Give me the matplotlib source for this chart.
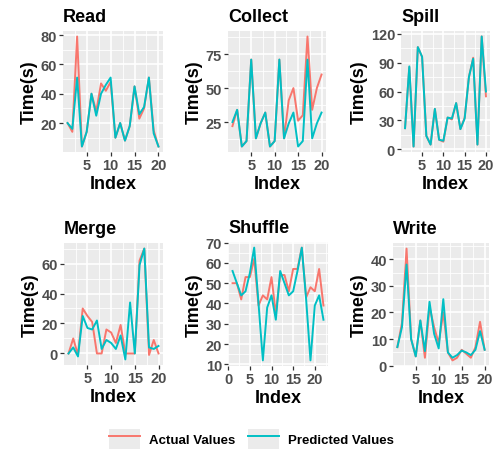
import matplotlib
matplotlib.use("Agg")
import matplotlib.pyplot as plt
from matplotlib.lines import Line2D
from matplotlib.patches import Patch
from matplotlib.legend_handler import HandlerTuple
import numpy as np

plt.rcParams['font.family'] = ['Liberation Sans', 'DejaVu Sans']
plt.rcParams['font.weight'] = 'bold'

# values
read_actual = [20, 14, 79, 4, 14, 40, 28, 47, 42, 48, 10, 20, 8, 18, 45, 23, 30, 51, 15, 4]
read_pred = [20, 16, 51, 4, 14, 40, 25, 40, 46, 51, 10, 20, 8, 18, 45, 26, 31, 51, 13, 4]

collect_actual = [22, 34, 7, 11, 71, 13, 24, 32, 7, 11, 71, 13, 41, 50, 26, 30, 88, 34, 50, 60]
collect_pred = [25, 34, 7, 11, 71, 13, 24, 32, 7, 11, 71, 13, 24, 32, 7, 11, 71, 13, 24, 32]

spill_actual = [22, 85, 3, 106, 96, 14, 5, 42, 10, 8, 33, 31, 48, 21, 33, 75, 95, 5, 117, 55]
spill_pred = [22, 86, 3, 106, 96, 14, 5, 42, 10, 9, 33, 32, 48, 21, 32, 75, 94, 5, 117, 60]

merge_actual = [0, 10, -1, 30, 25, 21, 0, 0, 16, 14, 7, 19, 0, 0, 0, 62, 70, -1, 9, 0]
merge_pred = [0, 4, -2, 25, 17, 16, 22, 3, 9, 7, 3, 12, -4, 34, 0, 59, 70, 4, 3, 5]

shuffle_actual = [50, 50, 42, 53, 53, 62, 39, 44, 42, 53, 35, 54, 54, 46, 57, 57, 67.5, 43, 48, 46, 57, 39]
shuffle_pred = [56, 50, 44, 46, 55, 67.5, 40, 12, 38, 44, 32, 56, 50, 44, 46, 56, 67.5, 42, 12, 39, 44, 32]

write_actual = [7, 16, 44, 10, 3.5, 17, 3, 22, 14.5, 8.5, 20, 5, 2, 3, 6, 4.5, 3, 7, 16.5, 6]
write_pred = [7, 14.5, 38, 10, 3.5, 17, 5.5, 24, 12, 6.5, 25, 5, 3, 4, 5.7, 5, 4, 6, 13, 6]

titles = ['Read', 'Collect', 'Spill', 'Merge', 'Shuffle', 'Write']
actual = [read_actual, collect_actual, spill_actual, merge_actual, shuffle_actual, write_actual]
predicted = [read_pred, collect_pred, spill_pred, merge_pred, shuffle_pred, write_pred]
yticks = [[20, 40, 60, 80], [25, 50, 75], [0, 30, 60, 90, 120],
          [0, 20, 40, 60], [10, 20, 30, 40, 50, 60, 70], [0, 10, 20, 30, 40]]
xticks = [[5, 10, 15, 20]] * 4 + [[0, 5, 10, 15, 20], [5, 10, 15, 20]]

RED = '#F8766D'
TEAL = '#00BFC4'
W, H = 493, 452

# panel boxes in pixels: left, right, top, bottom
boxes = [(63, 163, 32, 153), (228, 326, 32, 153), (401, 490, 32, 153),
         (64, 163, 244, 366), (228, 328, 243, 367), (393, 489, 244, 367)]


def expand(vals, mult=0.05):
    # ggplot-style continuous scale expansion
    lo, hi = np.min(vals), np.max(vals)
    pad = (hi - lo) * mult
    return lo - pad, hi + pad


fig = plt.figure(figsize=(W / 100, H / 100), dpi=100)

for i, (l, r, t, b) in enumerate(boxes):
    ax = fig.add_axes([l / W, (H - b) / H, (r - l) / W, (b - t) / H])
    ax.set_facecolor('#EBEBEB')
    for s in ax.spines.values():
        s.set_visible(False)
    x = np.arange(1, len(actual[i]) + 1)
    ax.plot(x, actual[i], color=RED, lw=1.4, zorder=3)
    ax.plot(x, predicted[i], color=TEAL, lw=1.4, zorder=4)
    ax.set_xticks(xticks[i])
    ax.set_yticks(yticks[i])
    # minor grid halfway between majors
    xt = np.array(xticks[i], dtype=float)
    yt = np.array(yticks[i], dtype=float)
    dx = xt[1] - xt[0]
    dy = yt[1] - yt[0]
    ax.set_xticks(np.arange(xt[0] - dx / 2, xt[-1] + dx, dx), minor=True)
    ax.set_yticks(np.arange(yt[0] - dy / 2, yt[-1] + dy, dy), minor=True)
    ax.set_xlim(*expand(x))
    ax.set_ylim(*expand(np.concatenate([actual[i], predicted[i]])))
    ax.grid(which='major', color='white', lw=1.2, zorder=0)
    ax.grid(which='minor', color='white', lw=0.6, zorder=0)
    ax.set_axisbelow(True)
    ax.tick_params(which='minor', length=0)
    ax.tick_params(which='major', length=2.75, width=0.9, color='#333333',
                   labelcolor='#4D4D4D', labelsize=10.5, pad=1.5)
    for lab in ax.get_xticklabels() + ax.get_yticklabels():
        lab.set_fontweight('bold')
    ax.set_title(titles[i], loc='left', fontsize=13, fontweight='bold', pad=7)
    ax.set_xlabel('Index', fontsize=13, fontweight='bold', labelpad=2)
    ax.set_ylabel('Time(s)', fontsize=13, fontweight='bold', labelpad=2)

key = Patch(facecolor='#EBEBEB', edgecolor='none')
handles = [(key, Line2D([], [], color=RED, lw=1.4)),
           (key, Line2D([], [], color=TEAL, lw=1.4))]
fig.legend(handles, ['Actual Values', 'Predicted Values'], loc='center',
           bbox_to_anchor=(0.51, 1 - 440 / H), ncol=2, frameon=False,
           handler_map={tuple: HandlerTuple(ndivide=1, pad=0)},
           prop={'weight': 'bold', 'size': 9.5}, handlelength=2.3,
           handleheight=2.0, handletextpad=0.7, columnspacing=1.0)

fig.savefig('out.png', dpi=100, facecolor='white')
